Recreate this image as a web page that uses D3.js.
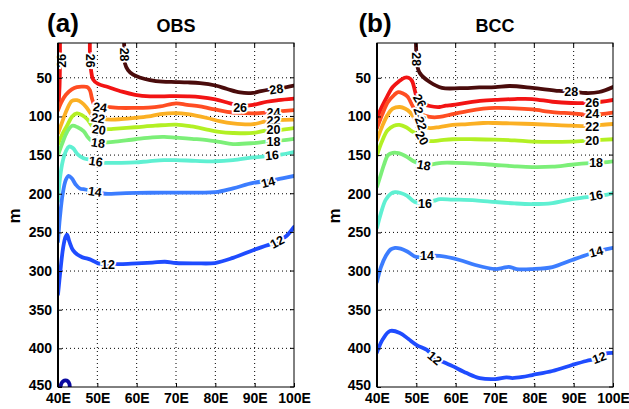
<!DOCTYPE html>
<html>
<head>
<meta charset="utf-8">
<script src="https://cdn.jsdelivr.net/npm/d3@7"></script>
<style>
  html, body { margin: 0; padding: 0; background: #fff; }
  svg { display: block; font-family: "Liberation Sans", Arial, Helvetica, sans-serif; }
</style>
</head>
<body>
<svg id="chart" width="629" height="409"></svg>
<script>
// ---------- data ----------
const lonTicks = [40, 50, 60, 70, 80, 90, 100];
const depthTicks = [50, 100, 150, 200, 250, 300, 350, 400, 450];
const levels = [28, 26, 24, 22, 20, 18, 16, 14, 12, 10];
const levelColors = ["#4a0c0c", "#f21414", "#ff4d22", "#fbb024", "#b2f024", "#7cef78", "#5ff0d2", "#3c7dff", "#1f4cff", "#0a0aa0"];

// OBS contours: [lon, depth(m)]
const obs28 = [[56.8,5],[56.9,20],[57.0,31],[57.8,40],[59.1,46],[61,50],[63.4,53],[66.5,55],[70,55.5],[73,56],[76.1,57],[80,60],[83,64.5],[86.3,69],[89.6,69.5],[91,68],[93.1,65.8],[95.5,64],[97,63],[100,60]];
const obs26 = [[48.1,5],[48.1,15],[48.2,30],[48.4,40],[48.9,52],[50.2,58],[52.7,62],[56.3,68],[59.6,72],[63.4,74],[67,74],[70,73.6],[73,74],[76.1,75],[80,78],[83,82],[86.3,86],[89.6,85],[93.1,81],[96,79],[100,77]];
const obs26b = [[40.5,5],[40.5,30],[40.4,60],[40.2,80],[40.1,88]];
const obs24 = [[40,92],[40.8,82],[42,72],[43.5,65],[44.8,62],[46.1,61.5],[47.4,62],[48.1,66],[48.6,76],[49.1,84],[49.6,87.5],[51,88],[53.2,88],[56,89],[59.1,89],[63,88.5],[66,87],[70,83],[72.8,85],[76.1,87],[79.9,91],[83,94],[86.3,95.5],[89.6,96],[93,95],[96,93.5],[100,91.7]];
const obs22 = [[40,122],[41,108],[42.2,92],[43.5,80],[44.8,79],[46,82],[47.2,88],[48.4,97],[49.2,101],[51,103],[53.5,104],[56,103.5],[59.6,102],[63,100],[66,97],[70,95.6],[73,97],[77.9,102],[81,106],[84.5,109],[89.6,110],[93,106],[96,104.6],[100,104]];
const obs20 = [[40,136],[41,124],[42.3,112],[43.6,100],[44.8,96],[46,98],[47.5,104],[48.6,112],[49.4,115],[51,117],[54,116],[59.6,114],[64.7,112],[70,110.5],[74,113],[77.9,117],[81,120],[84.5,121.4],[89.6,121.4],[93,118],[96,117.5],[100,115]];
const obs18 = [[40,150],[41,136],[42.3,120],[43.6,112],[45,114],[46.5,119],[47.6,127],[48.4,131],[49.5,134],[51.5,134],[54,133],[59.6,129.5],[64,127],[67,126.5],[70,127.5],[74,129],[77.9,130.5],[81,133],[84.5,135.7],[89.6,134.5],[93,132.5],[96,131.5],[100,129]];
const obs16 = [[40,210],[40.5,180],[41.2,158],[42,145],[42.8,139],[43.8,141],[45,149],[46.5,154],[48,156],[50,159],[52,160],[56,160],[59.6,159.5],[63,158],[67,156.5],[70,156.5],[75,157.5],[80,158],[84.5,156.5],[89.6,153],[94,151],[97,149],[100,146]];
const obs14 = [[40,262],[40.5,230],[41.2,200],[42,182],[42.7,177],[43.5,180],[44.5,188],[45.5,193],[47,194.5],[48.5,196],[50,198],[52,200],[56,199.5],[60,199],[67,198.5],[70,198.5],[75,198.5],[80,198],[84.5,193],[89.6,186],[94,183],[97,180],[100,177]];
const obs12 = [[40,330],[40.6,300],[41.3,270],[41.9,256],[42.3,253],[42.9,262],[43.8,273],[45,279],[46.1,282],[47.5,284],[48.6,286],[50.2,290],[53,291],[56,291],[60,290],[64,289],[67.2,288],[70,289.6],[75,290],[79.9,289.6],[84.5,283],[89.6,273],[93,267],[95.7,262],[98,255],[100,243]];
const obs10 = [[40.6,452],[40.8,446],[41.3,442.5],[41.9,441.5],[42.5,442.5],[42.9,446],[43,452]];

// BCC contours
const bcc28 = [[49.9,5],[50,20],[50.1,31],[50.9,44],[53.4,55.5],[56.5,63],[61,63.5],[66,62.5],[70.1,62],[73.7,60.6],[79.5,63],[86.3,67],[89.4,67.5],[93.2,69.7],[96.5,68.4],[100,62]];
const bcc26 = [[40,102],[41.2,88],[42.5,75],[44,62],[45.5,55],[47,50],[48,50],[48.9,54],[49.6,66],[50.1,75],[51,82],[53.4,86.5],[55.9,87.8],[57.5,86],[59.2,85.2],[63,82],[67,79.5],[70.1,78.7],[75,77.5],[79.5,77.5],[84.6,81],[89.4,82.6],[94.7,82.6],[97,81],[100,78.7]];
const bcc24 = [[40,115],[41.3,98],[42.7,82],[44.4,72],[45.4,68.5],[46.5,70],[47.8,74.5],[49,86],[50,94.3],[51.5,98],[53.4,100.7],[55.9,100.7],[59.2,97],[63,93],[67,90],[70.1,89],[75,89.5],[79.5,91],[84.6,94.3],[89.4,96],[94.7,98],[97,97],[100,95]];
const bcc22 = [[40,130.5],[41.3,113],[42.7,98],[44,90],[45.8,87.8],[47.2,90],[48.5,95],[49.7,104],[50.2,108.5],[51.5,112],[53.4,115],[55.9,113.7],[59.2,111],[63,110],[67,108.5],[70.1,108.5],[74,109],[79.5,109.8],[84.6,111],[89.4,112],[94.7,112.4],[97,111],[100,109.8]];
const bcc20 = [[40,150],[41.2,133],[42.7,118],[44.3,112],[45.7,111],[47.4,114],[48.8,119],[50.1,123],[51,129],[53.4,132],[55.9,131],[59.2,129.5],[65,129.5],[70.1,130],[75,131],[79.5,132.5],[84.6,133],[89.4,132.5],[94.7,131],[100,129.5]];
const bcc18 = [[40,191],[40.8,178],[41.8,162],[42.8,150],[44,147],[45.5,147.5],[47.5,152],[49.7,159],[52.2,163],[54,162],[56.5,160],[60,160],[65,161],[70.1,162.8],[75,164.5],[79.5,165.5],[84.6,165],[89.4,162.5],[94,160.5],[97.5,159.5],[100,158]];
const bcc16 = [[40,244],[41,225],[42.2,208],[43.5,200],[44.6,198],[46,199],[47.6,202.5],[49.6,210.7],[52.2,212],[54.5,209],[56,207],[59.2,207.5],[65,208.5],[70.1,210.7],[75,212.5],[79.5,213.3],[84.6,212],[89.6,207],[94,204],[97,202.5],[100,199]];
const bcc14 = [[40,314],[41,295],[42.3,280],[43.5,272],[44.6,270],[46,271],[47.8,275],[50,281.8],[52.5,280.5],[55.9,280.5],[61,285.7],[65,292.2],[70.1,297.4],[72,296],[73.5,294.5],[75.5,297.5],[79.5,297.4],[84.6,294.8],[89.6,285.7],[94,278],[97.3,273],[100,270]];
const bcc12 = [[40,405],[41.5,388],[43.3,377.6],[45.8,380],[48,388],[50.1,395.7],[52.7,402],[54.7,412],[57,418],[59.2,423],[62.8,432],[66.1,438.4],[70.1,439.7],[72.9,437.5],[74.4,438.4],[77,437],[79.5,434.5],[84.6,429.3],[89.6,421.6],[93.2,416.4],[96.5,412.5],[98,407],[100,406]];

// contour labels: [text, lon, depth, angle]
const obsLabels = [
  ["26", 40.9, 28, -90], ["26", 48.2, 28, 90], ["28", 56.9, 20, 90],
  ["24", 50.7, 88, 8], ["22", 50.2, 102, 10], ["20", 50.4, 117, 8], ["18", 50.2, 134, 8],
  ["16", 49.6, 158, 8], ["14", 49.4, 197, 8], ["12", 52.7, 291, 0],
  ["28", 95.5, 64.5, -8], ["26", 86.3, 88, 0], ["24", 94.8, 94.5, 0], ["22", 94.8, 105, 0],
  ["20", 94.8, 117.5, 0], ["18", 94.8, 133, 0], ["16", 94.4, 150, -5], ["14", 93.4, 185, -15], ["12", 95.7, 262, -28]
];
const bccLabels = [
  ["28", 50.1, 26, 90], ["26", 50.9, 80, 60], ["24", 50.9, 97, 70], ["22", 51.2, 109, 70], ["20", 51.5, 128, 60],
  ["18", 51.9, 163, 10], ["16", 52.2, 212, 0], ["14", 52.7, 280.5, 0], ["12", 54.7, 412.5, 40],
  ["28", 89.4, 67.5, 0], ["26", 94.7, 82.6, 0], ["24", 94.7, 96, 0], ["22", 94.7, 112.5, 0],
  ["20", 94.7, 131, 0], ["18", 95.7, 159.5, 0], ["16", 95.7, 202, -10], ["14", 95.7, 275, -15], ["12", 96.5, 412, -20]
];

const obsContours = [[28, obs28], [26, obs26], [26, obs26b], [24, obs24], [22, obs22], [20, obs20], [18, obs18], [16, obs16], [14, obs14], [12, obs12], [10, obs10]];
const bccContours = [[28, bcc28], [26, bcc26], [24, bcc24], [22, bcc22], [20, bcc20], [18, bcc18], [16, bcc16], [14, bcc14], [12, bcc12]];

// ---------- drawing ----------
const svg = d3.select("#chart");
const color = d3.scaleOrdinal().domain(levels).range(levelColors);
const plotTop = 43, plotBottom = 387, plotW = 236;

const panels = [
  { tag: "(a)", title: "OBS", x0: 58, tagX: 63, titleX: 176, mX: 14, contours: obsContours, labels: obsLabels, id: "a" },
  { tag: "(b)", title: "BCC", x0: 377, tagX: 375, titleX: 495, mX: 334, contours: bccContours, labels: bccLabels, id: "b" }
];

panels.forEach(p => {
  const x = d3.scaleLinear().domain([40, 100]).range([p.x0, p.x0 + plotW]);
  const y = d3.scaleLinear().domain([5, 450]).range([plotTop, plotBottom]);
  const g = svg.append("g");

  g.append("clipPath").attr("id", "clip" + p.id)
    .append("rect").attr("x", p.x0).attr("y", plotTop).attr("width", plotW).attr("height", plotBottom - plotTop);

  // grid
  g.append("g").selectAll("line").data(lonTicks.slice(1, -1)).join("line")
    .attr("x1", d => x(d)).attr("x2", d => x(d)).attr("y1", plotTop).attr("y2", plotBottom)
    .attr("stroke", "#000").attr("stroke-width", 1).attr("stroke-dasharray", "1,3");
  g.append("g").selectAll("line").data(depthTicks.slice(0, -1)).join("line")
    .attr("x1", p.x0).attr("x2", p.x0 + plotW).attr("y1", d => y(d)).attr("y2", d => y(d))
    .attr("stroke", "#000").attr("stroke-width", 1).attr("stroke-dasharray", "1,3");

  // contours
  const line = d3.line().x(d => x(d[0])).y(d => y(d[1])).curve(d3.curveCatmullRom.alpha(0.5));
  g.append("g").attr("clip-path", `url(#clip${p.id})`).selectAll("path").data(p.contours).join("path")
    .attr("d", d => line(d[1]))
    .attr("fill", "none")
    .attr("stroke", d => color(d[0]))
    .attr("stroke-width", 3.8)
    .attr("stroke-linejoin", "round")
    .attr("stroke-linecap", "round");

  // contour labels
  g.append("g").selectAll("text").data(p.labels).join("text")
    .attr("transform", d => `translate(${x(d[1])},${y(d[2])}) rotate(${d[3]})`)
    .attr("text-anchor", "middle").attr("dy", "0.36em")
    .attr("font-size", 12.5).attr("font-weight", "bold")
    .attr("fill", "#000").attr("stroke", "#fff").attr("stroke-width", 3.5)
    .attr("paint-order", "stroke")
    .text(d => d[0]);

  // axes
  const ax = g.append("g").attr("transform", `translate(0,${plotBottom})`)
    .call(d3.axisBottom(x).tickValues(lonTicks).tickFormat(d => d + "E").tickSizeInner(-4).tickSizeOuter(0).tickPadding(6));
  const ay = g.append("g").attr("transform", `translate(${p.x0},0)`)
    .call(d3.axisLeft(y).tickValues(depthTicks).tickSizeInner(-4).tickSizeOuter(0).tickPadding(6));
  [ax, ay].forEach(a => {
    a.select(".domain").remove();
    a.selectAll("text").attr("font-size", 14).attr("font-weight", "bold").attr("fill", "#000")
      .attr("font-family", '"Liberation Sans", Arial, sans-serif');
    a.selectAll(".tick line").attr("stroke", "#000");
  });
  // nudge the bottom depth label up a little, as in the reference
  ay.selectAll(".tick text").filter(d => d === 450).attr("dy", "0.2em");
  // top and right ticks
  g.append("g").selectAll("line").data(lonTicks).join("line")
    .attr("x1", d => x(d)).attr("x2", d => x(d)).attr("y1", plotTop).attr("y2", plotTop + 4).attr("stroke", "#000");
  g.append("g").selectAll("line").data(depthTicks).join("line")
    .attr("x1", p.x0 + plotW).attr("x2", p.x0 + plotW - 4).attr("y1", d => y(d)).attr("y2", d => y(d)).attr("stroke", "#000");

  // frame
  g.append("rect").attr("x", p.x0).attr("y", plotTop).attr("width", plotW).attr("height", plotBottom - plotTop)
    .attr("fill", "none").attr("stroke", "#000").attr("stroke-width", 1);
  g.append("line").attr("x1", p.x0).attr("x2", p.x0).attr("y1", plotTop).attr("y2", plotBottom)
    .attr("stroke", "#000").attr("stroke-width", 2);

  // titles
  g.append("text").attr("x", p.tagX).attr("y", 32).attr("text-anchor", "middle")
    .attr("font-size", 26).attr("font-weight", "bold").attr("fill", "#000").text(p.tag);
  g.append("text").attr("x", p.titleX).attr("y", 32).attr("text-anchor", "middle")
    .attr("font-size", 18).attr("font-weight", "bold").attr("fill", "#000").text(p.title);
  g.append("text").attr("transform", `translate(${p.mX},216) rotate(-90)`).attr("text-anchor", "middle")
    .attr("dy", "0.35em").attr("font-size", 17).attr("font-weight", "bold").attr("fill", "#000").text("m");
});
</script>
</body>
</html>
